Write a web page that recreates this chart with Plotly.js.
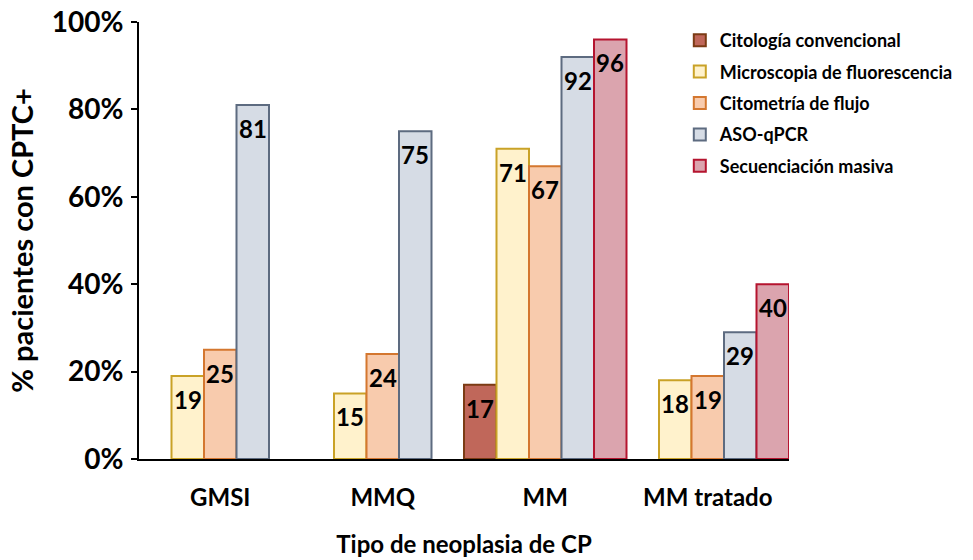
<!DOCTYPE html>
<html>
<head>
<meta charset="utf-8">
<script src="https://cdn.plot.ly/plotly-3.0.1.min.js"></script>
<style>
  html, body { margin: 0; padding: 0; background: #fff; }
  #chart { width: 973px; height: 560px; }
</style>
</head>
<body>
<div id="chart"></div>
<script>
// Neoplasia categories on the x axis
const categories = ['GMSI', 'MMQ', 'MM', 'MM tratado'];

// Percentage of patients with CPTC+ detected by each technique (null = not studied)
const citologia     = [null, null, 17, null];
const microscopia   = [19, 15, 71, 18];
const citometria    = [25, 24, 67, 19];
const asoqpcr       = [81, 75, 92, 29];
const secuenciacion = [null, null, 96, 40];

const seriesNames = [
  'Citología convencional',
  'Microscopia de fluorescencia',
  'Citometría de flujo',
  'ASO-qPCR',
  'Secuenciación masiva'
];
const seriesValues = [citologia, microscopia, citometria, asoqpcr, secuenciacion];
const fills   = ['#c0675a', '#fff2cc', '#f8cbad', '#d6dce5', '#dba4ae'];
const borders = ['#7b3b14', '#c9a227', '#d4772f', '#5d6b80', '#b5142f'];

const FONT = 'Lato, "Open Sans", sans-serif';
const margin = { l: 139, r: 184, t: 22, b: 101 };
const plotW = 973 - margin.l - margin.r;
const barPx = plotW / (categories.length * seriesNames.length);

const traces = seriesNames.map((name, i) => ({
  type: 'bar',
  name: name,
  legendgroup: 'g' + i,
  x: categories,
  y: seriesValues[i],
  marker: { color: fills[i], line: { color: borders[i], width: 2 } },
  hoverinfo: 'x+y+name'
}));

// Value labels placed inside the top of each bar
const annotations = [];
seriesValues.forEach((vals, i) => {
  vals.forEach((v, j) => {
    if (v === null) return;
    annotations.push({
      xref: 'x', yref: 'y',
      x: categories[j], y: v,
      xshift: (i - (seriesNames.length - 1) / 2) * barPx,
      yshift: -7,
      yanchor: 'top', xanchor: 'center',
      text: String(v),
      showarrow: false,
      font: { family: FONT, size: 24, weight: 'bold', color: '#000' }
    });
  });
});

const layout = {
  width: 973, height: 560,
  margin: margin,
  paper_bgcolor: '#fff', plot_bgcolor: '#fff',
  barmode: 'group', bargap: 0, bargroupgap: 0,
  font: { family: FONT, color: '#000', weight: 'bold' },
  showlegend: true,
  legend: {
    x: 0.832, xanchor: 'left', y: 1.0, yanchor: 'top',
    font: { family: FONT, size: 18, weight: 'bold', color: '#000' },
    tracegroupgap: 5,
    bgcolor: 'rgba(0,0,0,0)'
  },
  xaxis: {
    type: 'category',
    range: [-0.5, 3.5],
    showline: true, linecolor: '#000', linewidth: 2,
    ticks: '', showgrid: false, zeroline: false,
    tickfont: { family: FONT, size: 24, weight: 'bold', color: '#000' },
    ticklabelstandoff: 16,
    title: { text: 'Tipo de neoplasia de CP', standoff: 26,
             font: { family: FONT, size: 24, weight: 'bold', color: '#000' } }
  },
  yaxis: {
    range: [0, 100],
    dtick: 20, tick0: 0,
    ticksuffix: '%',
    showline: true, linecolor: '#000', linewidth: 2,
    ticks: 'outside', ticklen: 6, tickwidth: 2, tickcolor: '#000',
    showgrid: false, zeroline: false,
    tickfont: { family: FONT, size: 28, weight: 'bold', color: '#000' },
    ticklabelstandoff: 2,
    title: { text: '% pacientes con CPTC+', standoff: 10,
             font: { family: FONT, size: 29, weight: 'bold', color: '#000' } }
  },
  annotations: annotations
};

Plotly.newPlot('chart', traces, layout, { displayModeBar: false, staticPlot: true });
</script>
</body>
</html>
